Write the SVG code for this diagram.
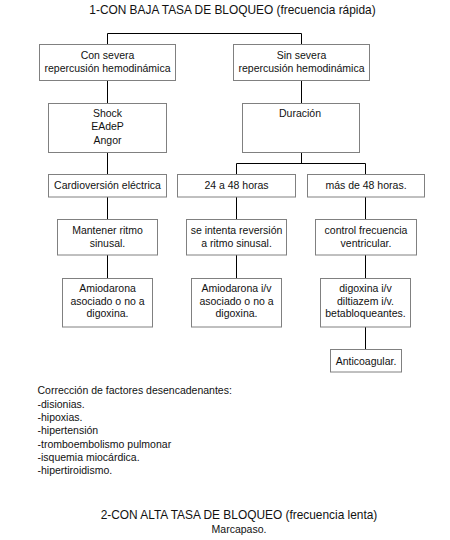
<svg xmlns="http://www.w3.org/2000/svg" width="450" height="540" viewBox="0 0 450 540">
<style>
.bx{fill:#fff;stroke:#808080;stroke-width:1}
.ln{fill:none;stroke:#000;stroke-width:1}
text{font-family:"Liberation Sans",Arial,sans-serif;font-size:10.5px;fill:#111}
.c{text-anchor:middle}
.t{font-size:11.9px}
</style>
<rect width="450" height="540" fill="#fff"/>
<text class="c t" x="232.5" y="14">1-CON BAJA TASA DE BLOQUEO (frecuencia rápida)</text>
<g id="connectors">
<path class="ln" d="M107.5,44.5V33.5H301.5V44.5"/>
<path class="ln" d="M107.5,80.5V103.5"/>
<path class="ln" d="M301.5,80.5V103.5"/>
<path class="ln" d="M107.5,152.5V174.5"/>
<path class="ln" d="M301.5,152.5V163.5M236.5,174.5V163.5H365.5V174.5"/>
<path class="ln" d="M107.5,197V219.5M236.5,197V219.5M365.5,197V219.5"/>
<path class="ln" d="M107.5,255V278.5M236.5,255V278.5M365.5,255V278.5"/>
<path class="ln" d="M365.5,327V349.5"/>
</g>
<g id="n1"><rect class="bx" x="39.5" y="44.5" width="136" height="36"/><text class="c" x="107.5" y="59">Con severa</text><text class="c" x="107.5" y="72">repercusión hemodinámica</text></g>
<g id="n2"><rect class="bx" x="233.5" y="44.5" width="136" height="36"/><text class="c" x="301.5" y="59">Sin severa</text><text class="c" x="301.5" y="72">repercusión hemodinámica</text></g>
<g id="n3"><rect class="bx" x="48.5" y="103.5" width="118" height="49"/><text class="c" x="107.5" y="116.5">Shock</text><text class="c" x="107.5" y="130">EAdeP</text><text class="c" x="107.5" y="143.5">Angor</text></g>
<g id="n4"><rect class="bx" x="242.5" y="103.5" width="117" height="49"/><text class="c" x="300" y="116.5">Duración</text></g>
<g id="n5"><rect class="bx" x="48.5" y="174.5" width="118" height="22.5"/><text class="c" x="107.5" y="189">Cardioversión eléctrica</text></g>
<g id="n6"><rect class="bx" x="177.5" y="174.5" width="118" height="22.5"/><text class="c" x="236.5" y="189">24 a 48 horas</text></g>
<g id="n7"><rect class="bx" x="307.5" y="174.5" width="117" height="22.5"/><text class="c" x="366" y="189">más de 48 horas.</text></g>
<g id="n8"><rect class="bx" x="57.5" y="219.5" width="100" height="35.5"/><text class="c" x="107.5" y="233.5">Mantener ritmo</text><text class="c" x="107.5" y="246.5">sinusal.</text></g>
<g id="n9"><rect class="bx" x="186.5" y="219.5" width="100" height="35.5"/><text class="c" x="236.5" y="233.5">se intenta reversión</text><text class="c" x="236.5" y="246.5">a ritmo sinusal.</text></g>
<g id="n10"><rect class="bx" x="315.5" y="219.5" width="101" height="35.5"/><text class="c" x="366" y="233.5">control frecuencia</text><text class="c" x="366" y="246.5">ventricular.</text></g>
<g id="n11"><rect class="bx" x="62.5" y="278.5" width="90" height="48.5"/><text class="c" x="107.5" y="292">Amiodarona</text><text class="c" x="107.5" y="304.5">asociado o no a</text><text class="c" x="107.5" y="317">digoxina.</text></g>
<g id="n12"><rect class="bx" x="191.5" y="278.5" width="90" height="48.5"/><text class="c" x="236.5" y="292">Amiodarona i/v</text><text class="c" x="236.5" y="304.5">asociado o no a</text><text class="c" x="236.5" y="317">digoxina.</text></g>
<g id="n13"><rect class="bx" x="320.5" y="278.5" width="90" height="48.5"/><text class="c" x="365.5" y="292">digoxina i/v</text><text class="c" x="365.5" y="304.5">diltiazem i/v.</text><text class="c" x="365.5" y="317">betabloqueantes.</text></g>
<g id="n14"><rect class="bx" x="330.5" y="349.5" width="71" height="22.5"/><text class="c" x="366" y="364.5">Anticoagular.</text></g>
<g id="notes">
<text x="37.5" y="394">Corrección de factores desencadenantes:</text>
<text x="37.5" y="407.5">-disionias.</text>
<text x="37.5" y="421">-hipoxias.</text>
<text x="37.5" y="434">-hipertensión</text>
<text x="37.5" y="447.5">-tromboembolismo pulmonar</text>
<text x="37.5" y="461">-isquemia miocárdica.</text>
<text x="37.5" y="474">-hipertiroidismo.</text>
</g>
<text class="c t" x="239" y="519">2-CON ALTA TASA DE BLOQUEO (frecuencia lenta)</text>
<text class="c" x="239" y="533">Marcapaso.</text>
</svg>
